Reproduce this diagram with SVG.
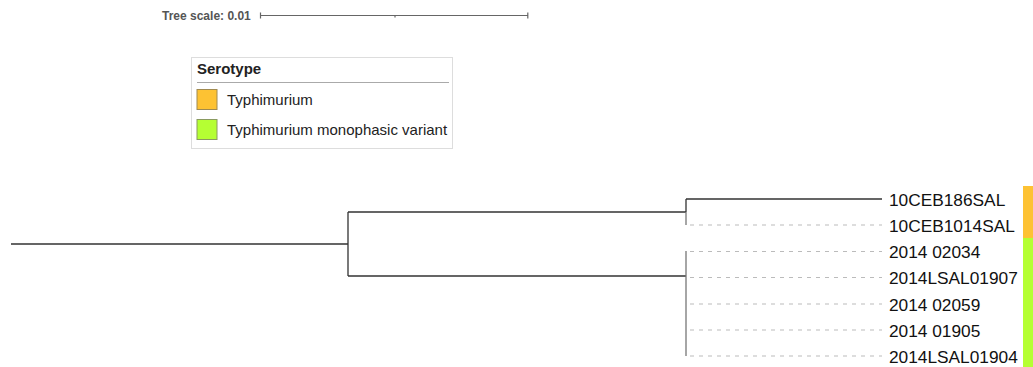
<svg xmlns="http://www.w3.org/2000/svg" width="1033" height="367" viewBox="0 0 1033 367">
<style>
.br{stroke:#333;stroke-width:1.3;fill:none}
.vg{stroke:#777;stroke-width:1.3;fill:none}
.ds{stroke:#bbb;stroke-width:1;stroke-dasharray:4 5;fill:none}
.lbl{font-family:"Liberation Sans",Arial,sans-serif;font-size:17.3px;fill:#111}
.lg{font-family:"Liberation Sans",Arial,sans-serif;font-size:15px;fill:#222}
.sc{stroke:#666;stroke-width:1.2;fill:none}
</style>
<rect width="1033" height="367" fill="#fff"/>
<g id="scale">
<text x="162" y="20" font-family="Liberation Sans, Arial, sans-serif" font-size="12" font-weight="bold" fill="#555">Tree scale: 0.01</text>
<path class="sc" d="M260 15.5H528M260.5 12.5v6M527.8 12.5v6M395 15.5v2"/>
</g>
<g id="legend">
<rect x="191.5" y="57.5" width="261" height="91" fill="#fff" stroke="#ddd"/>
<text class="lg" x="197" y="74" font-weight="bold" fill="#111">Serotype</text>
<line x1="197" y1="82.5" x2="449" y2="82.5" stroke="#aaa"/>
<rect x="197" y="89.5" width="20" height="20" fill="#FDC233" stroke="#a08a50"/>
<text class="lg" x="227" y="104.5">Typhimurium</text>
<rect x="197" y="119.5" width="20" height="20" fill="#B5FF33" stroke="#8a9a60"/>
<text class="lg" x="227" y="134.5">Typhimurium monophasic variant</text>
</g>
<g id="connectors">
<path class="br" d="M11 244H348M348 212V276M348 212H686M348 276H686M686 212V199M686 199H882"/>
<path class="vg" d="M686 212V225M686 251V356"/>
<path class="ds" d="M690 225H882M690 251.5H882M690 277.5H882M690 304H882M690 330H882M690 356H882"/>
</g>
<g id="leaf1"><text class="lbl" x="889" y="205.5">10CEB186SAL</text></g>
<g id="leaf2"><text class="lbl" x="889" y="231.5">10CEB1014SAL</text></g>
<g id="leaf3"><text class="lbl" x="889" y="258">2014 02034</text></g>
<g id="leaf4"><text class="lbl" x="889" y="284">2014LSAL01907</text></g>
<g id="leaf5"><text class="lbl" x="889" y="310.5">2014 02059</text></g>
<g id="leaf6"><text class="lbl" x="889" y="336.5">2014 01905</text></g>
<g id="leaf7"><text class="lbl" x="889" y="362.5">2014LSAL01904</text></g>
<g id="colorstrip">
<rect x="1023" y="186" width="10" height="52" fill="#FDC233"/>
<rect x="1023" y="238" width="10" height="129" fill="#B5FF33"/>
</g>
</svg>
